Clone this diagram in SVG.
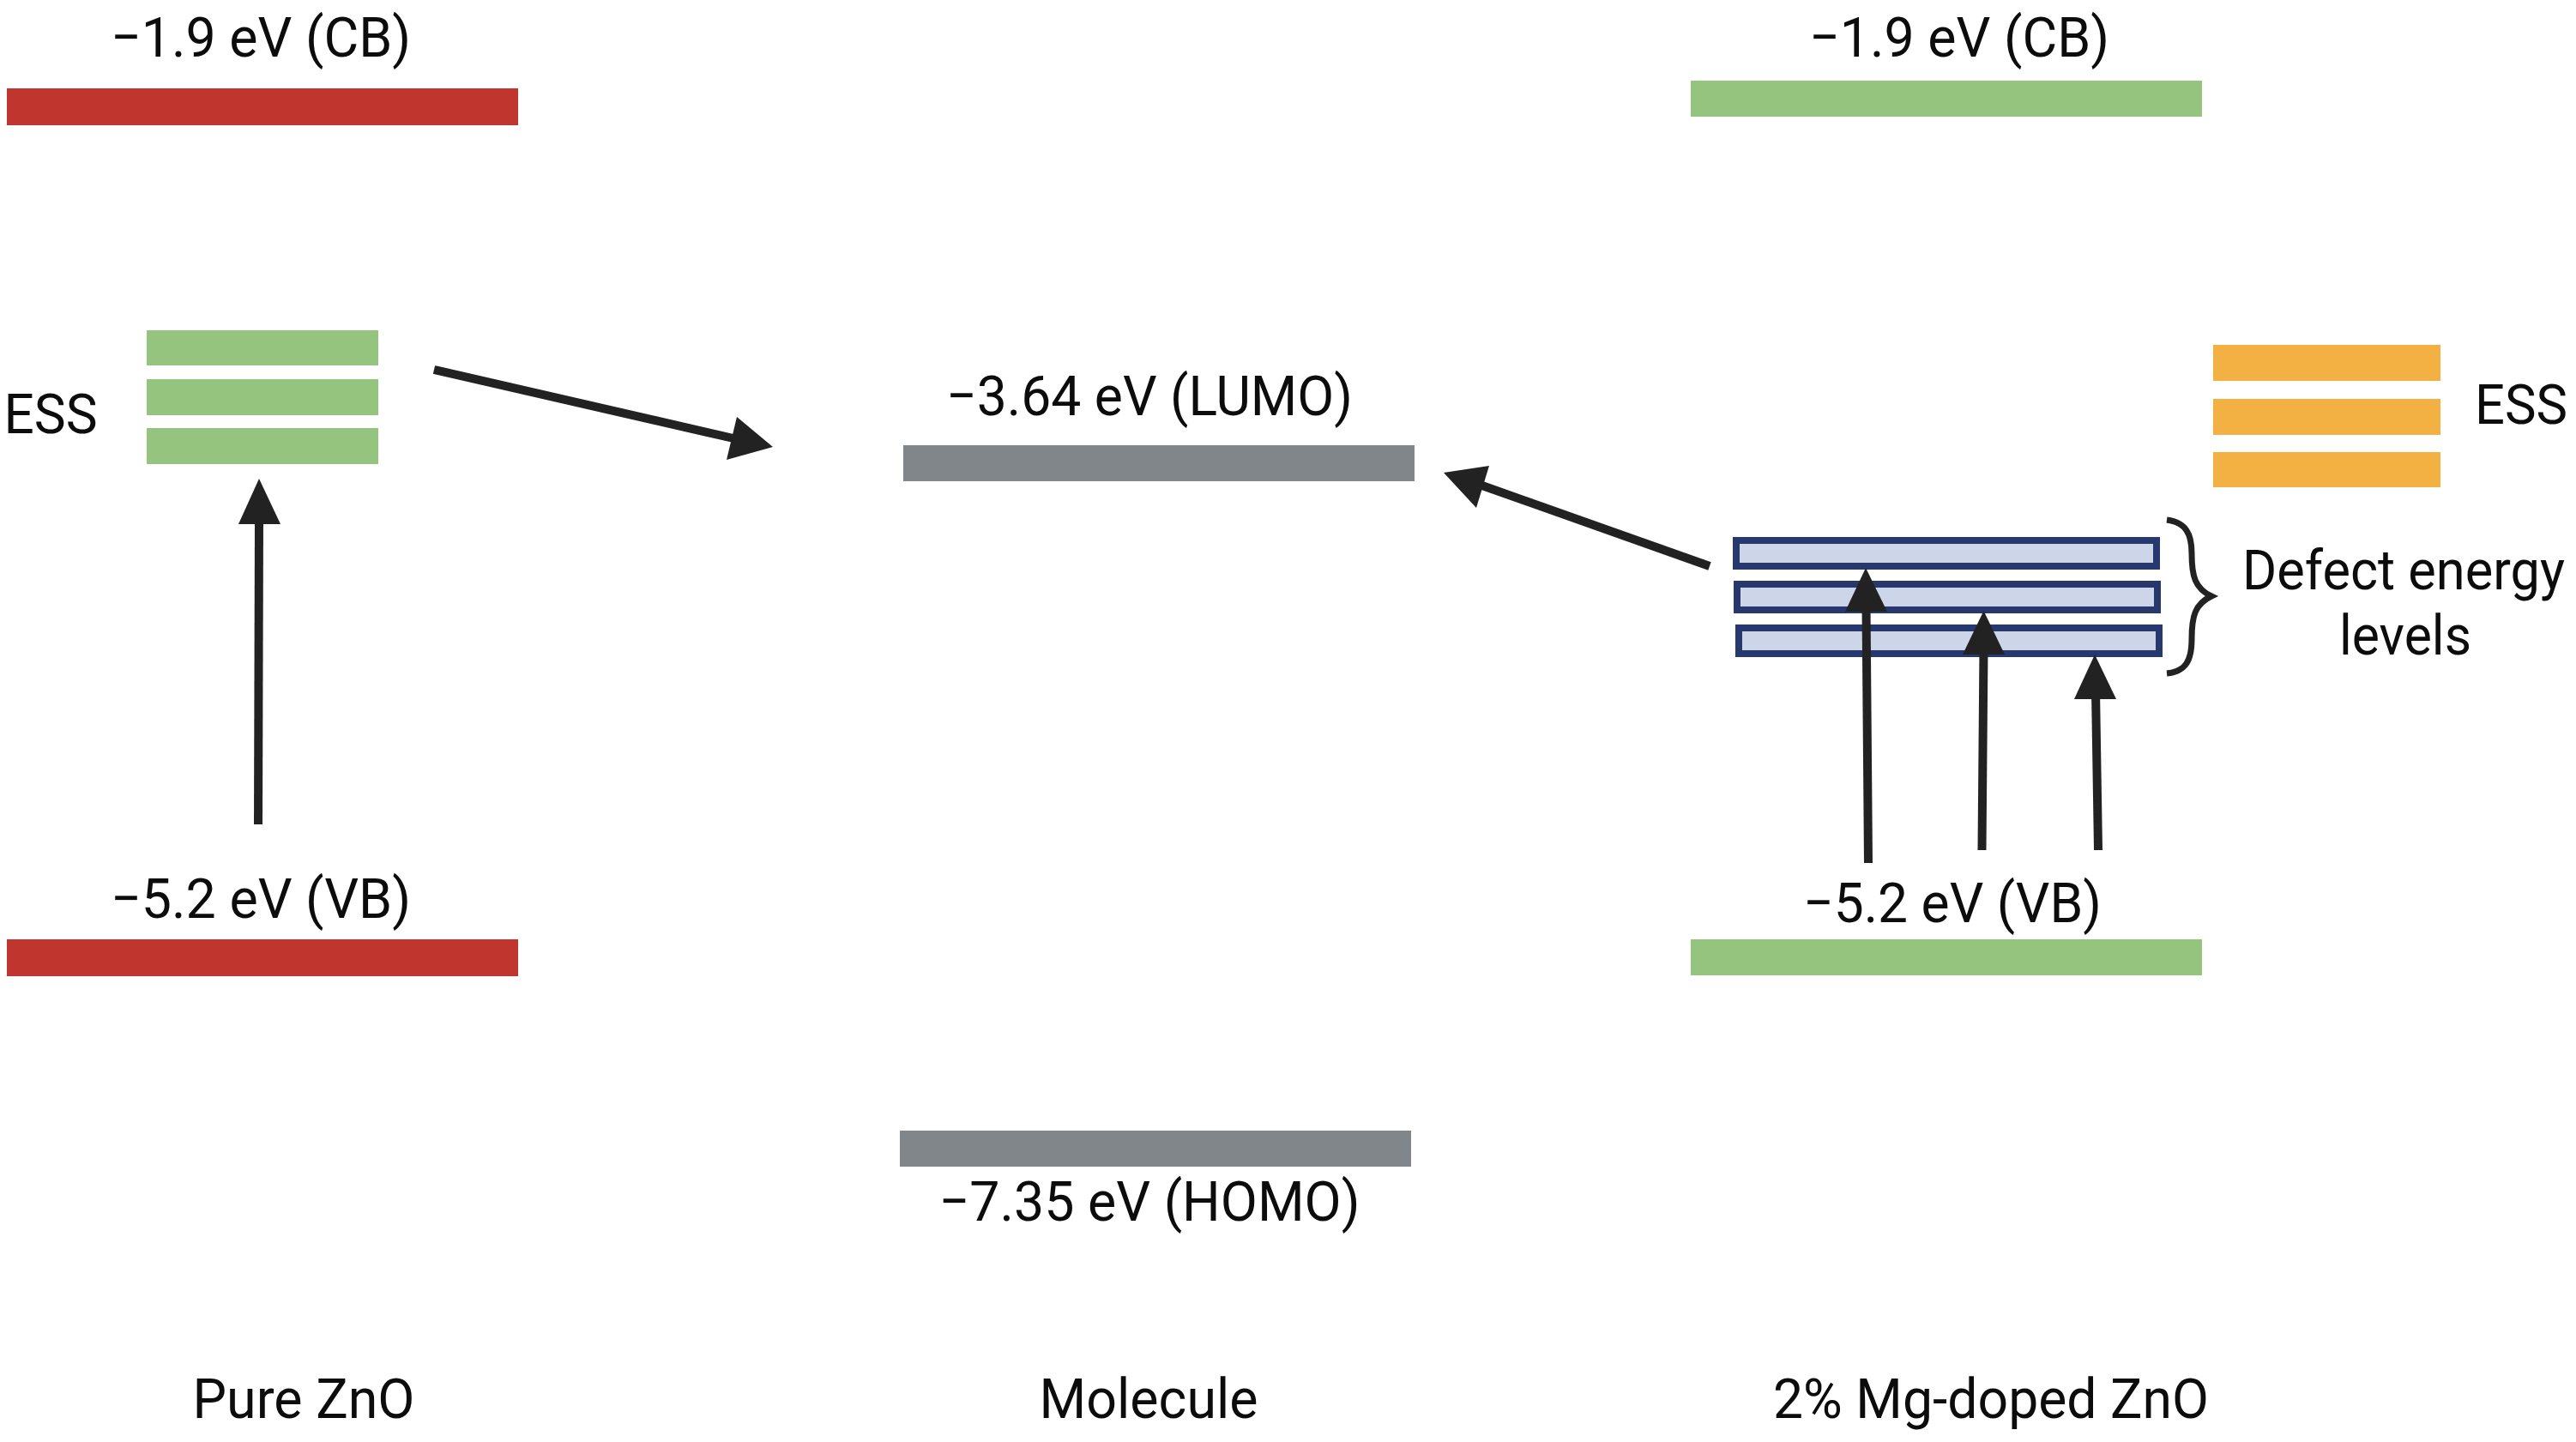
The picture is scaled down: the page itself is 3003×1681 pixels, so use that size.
<svg xmlns="http://www.w3.org/2000/svg" width="3003" height="1681" viewBox="0 0 3003 1681">
<style>
text{font-family:Roboto,"Liberation Sans",sans-serif;font-size:65px;fill:#0c0c0c;text-anchor:middle}
.red{fill:#c0352d}.green{fill:#95c47f}.gray{fill:#808689}.orange{fill:#f2b142}
.def{fill:#cdd5e8;stroke:#27386f;stroke-width:8}
.ln{stroke:#222;stroke-width:10;fill:none}
.hd{fill:#222}
</style>
<rect width="3003" height="1681" fill="#fff"/>
<g id="pure-cb"><rect class="red" x="8" y="103" width="596" height="43"/><text x="304" y="66" textLength="350" lengthAdjust="spacingAndGlyphs">−1.9 eV (CB)</text></g>
<g id="pure-vb"><rect class="red" x="8" y="1095" width="596" height="43"/><text x="304" y="1070" textLength="350" lengthAdjust="spacingAndGlyphs">−5.2 eV (VB)</text></g>
<g id="pure-ess"><rect class="green" x="171" y="385" width="270" height="41"/><rect class="green" x="171" y="442" width="270" height="42"/><rect class="green" x="171" y="499" width="270" height="42"/><text x="59" y="505" textLength="109" lengthAdjust="spacingAndGlyphs">ESS</text></g>
<g id="pure-label"><text x="354" y="1653" textLength="259" lengthAdjust="spacingAndGlyphs">Pure ZnO</text></g>
<g id="lumo"><rect class="gray" x="1053" y="519" width="596" height="42"/><text x="1340" y="484" textLength="474" lengthAdjust="spacingAndGlyphs">−3.64 eV (LUMO)</text></g>
<g id="homo"><rect class="gray" x="1049" y="1318" width="596" height="42"/><text x="1340" y="1423" textLength="491" lengthAdjust="spacingAndGlyphs">−7.35 eV (HOMO)</text></g>
<g id="molecule-label"><text x="1339" y="1653" textLength="255" lengthAdjust="spacingAndGlyphs">Molecule</text></g>
<g id="doped-cb"><rect class="green" x="1971" y="94" width="596" height="42"/><text x="2284" y="66" textLength="350" lengthAdjust="spacingAndGlyphs">−1.9 eV (CB)</text></g>
<g id="doped-vb"><rect class="green" x="1971" y="1095" width="596" height="42"/><text x="2276" y="1075" textLength="348" lengthAdjust="spacingAndGlyphs">−5.2 eV (VB)</text></g>
<g id="doped-ess"><rect class="orange" x="2580" y="402" width="265" height="42"/><rect class="orange" x="2580" y="465" width="265" height="42"/><rect class="orange" x="2580" y="527" width="265" height="41"/><text x="2939" y="494" textLength="108" lengthAdjust="spacingAndGlyphs">ESS</text></g>
<g id="defects"><rect class="def" x="2024" y="630" width="490" height="30"/><rect class="def" x="2025" y="681" width="490" height="30"/><rect class="def" x="2027" y="732" width="490" height="30"/>
<path d="M2526 606C2548 609 2555 622 2555 645C2555 672 2559 686 2578 695C2559 704 2555 718 2555 745C2555 770 2548 783 2526 785" fill="none" stroke="#222" stroke-width="7"/>
<text x="2802" y="687" textLength="376" lengthAdjust="spacingAndGlyphs">Defect energy</text><text x="2804" y="763" textLength="154" lengthAdjust="spacingAndGlyphs">levels</text></g>
<g id="doped-label"><text x="2321" y="1653" textLength="508" lengthAdjust="spacingAndGlyphs">2% Mg-doped ZnO</text></g>
<g id="connectors">
<path class="ln" d="M301 961L302 605"/><path class="hd" d="M302 558L327 611H278Z"/>
<path class="ln" d="M506 431L855 511"/><path class="hd" d="M901 521L847 536L859 486Z"/>
<path class="ln" d="M1993 660L1725 565"/><path class="hd" d="M1683 551L1736 543L1721 592Z"/>
<path class="ln" d="M2178 1006L2175.500 705"/><path class="hd" d="M2175 662L2200 713H2151Z"/>
<path class="ln" d="M2310.500 991L2312.500 755"/><path class="hd" d="M2312.500 712L2337 763H2288Z"/>
<path class="ln" d="M2446 991L2443 805"/><path class="hd" d="M2442 763L2467 815H2418Z"/>
</g>
</svg>
